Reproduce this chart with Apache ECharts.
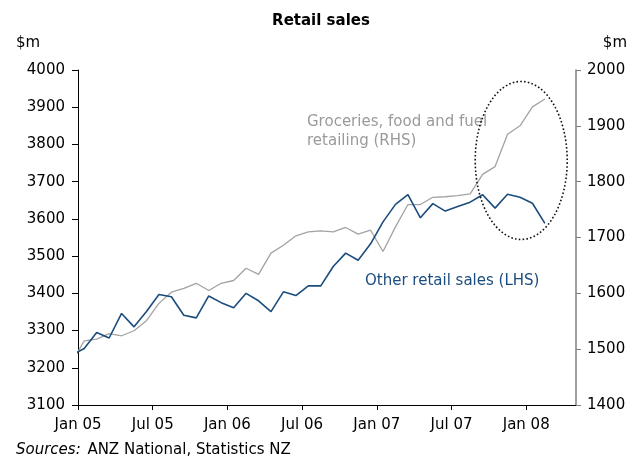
<!DOCTYPE html>
<html>
<head>
<meta charset="utf-8">
<script src="https://cdn.jsdelivr.net/npm/echarts@6/dist/echarts.min.js"></script>
<style>
html,body{margin:0;padding:0;background:#fff;}
#c{width:642px;height:459px;}
</style>
</head>
<body>
<div id="c"></div>
<script>
// Months (first point Dec 04 is partly clipped by the left axis)
const months = ['Dec 04',
  'Jan 05','Feb 05','Mar 05','Apr 05','May 05','Jun 05','Jul 05','Aug 05','Sep 05','Oct 05','Nov 05','Dec 05',
  'Jan 06','Feb 06','Mar 06','Apr 06','May 06','Jun 06','Jul 06','Aug 06','Sep 06','Oct 06','Nov 06','Dec 06',
  'Jan 07','Feb 07','Mar 07','Apr 07','May 07','Jun 07','Jul 07','Aug 07','Sep 07','Oct 07','Nov 07','Dec 07',
  'Jan 08','Feb 08'];
// Other retail sales, $m (LHS)
const otherRetail = [3234,
  3252,3295,3280,3346,3310,3351,3397,3391,3341,3334,3393,3375,
  3361,3400,3380,3351,3404,3394,3420,3420,3472,3508,3489,3533,
  3592,3639,3665,3603,3641,3621,3633,3645,3665,3629,3666,3658,
  3642,3588];
// Groceries, food and fuel retailing, $m (RHS)
const groceries = [1476,
  1515,1518,1528,1524,1533,1551,1582,1602,1609,1618,1605,1618,
  1623,1645,1634,1672,1686,1703,1710,1712,1710,1718,1706,1713,
  1675,1719,1759,1759,1772,1773,1775,1778,1813,1827,1885,1900,
  1934,1948];
const tickLabels = ['Jan 05','Jul 05','Jan 06','Jul 06','Jan 07','Jul 07','Jan 08'];
const tickMonths = [0,6,12,18,24,30,36]; // months since Jan 05
const leftTicks = [3100,3200,3300,3400,3500,3600,3700,3800,3900,4000];
const rightTicks = [1400,1500,1600,1700,1800,1900,2000];

const FONT = 'DejaVu Sans';
const FS = 15;
// x position: months since start of Jan 05, points plotted mid-month
const xOf = i => i - 1 + 0.5;

const chart = echarts.init(document.getElementById('c'), null, {renderer:'canvas'});
const option = {
  animation: false,
  backgroundColor: '#fff',
  textStyle: {fontFamily: FONT},
  title: {
    text: 'Retail sales', left: 'center', top: 9,
    textStyle: {fontFamily: FONT, fontSize: 15, fontWeight: 'bold', color: '#000'}
  },
  grid: {left: 78, right: 66, top: 70, bottom: 54, containLabel: false},
  xAxis: {
    type: 'value', min: 0, max: 40, interval: 6,
    axisLine: {show: true, onZero: false, lineStyle: {color: '#000', width: 1}},
    axisTick: {show: true, length: 5, customValues: tickMonths, lineStyle: {color: '#000'}},
    axisLabel: {
      customValues: tickMonths,
      formatter: v => { const k = tickMonths.indexOf(Math.round(v)); return k >= 0 ? tickLabels[k] : ''; },
      margin: 13, fontSize: FS, color: '#000', fontFamily: FONT
    },
    splitLine: {show: false}
  },
  yAxis: [{
    type: 'value', position: 'left', min: leftTicks[0], max: leftTicks[leftTicks.length-1], interval: 100,
    axisLine: {show: true, lineStyle: {color: '#000', width: 1}},
    axisTick: {show: true, length: 6, lineStyle: {color: '#000'}},
    axisLabel: {margin: 13, fontSize: FS, color: '#000', fontFamily: FONT, formatter: v => String(v)},
    splitLine: {show: false}
  }, {
    type: 'value', position: 'right', min: rightTicks[0], max: rightTicks[rightTicks.length-1], interval: 100,
    axisLine: {show: true, lineStyle: {color: '#808080', width: 1.5}},
    axisTick: {show: true, length: 5, lineStyle: {color: '#808080'}},
    axisLabel: {margin: 11, fontSize: FS, color: '#000', fontFamily: FONT, formatter: v => String(v)},
    splitLine: {show: false}
  }],
  series: [{
    name: 'Groceries, food and fuel retailing (RHS)',
    type: 'line', yAxisIndex: 1, symbol: 'none', clip: true,
    lineStyle: {color: '#A3A3A3', width: 1.3},
    data: groceries.map((v, i) => [xOf(i), v]),
    z: 2
  }, {
    name: 'Other retail sales (LHS)',
    type: 'line', yAxisIndex: 0, symbol: 'none', clip: true,
    lineStyle: {color: '#1B4C7E', width: 1.6},
    data: otherRetail.map((v, i) => [xOf(i), v]),
    z: 3
  }]
};
chart.setOption(option);

// annotations
const c = chart.convertToPixel({xAxisIndex: 0, yAxisIndex: 1}, [35.6, 1838]);
const f = FS + 'px "DejaVu Sans"';
chart.setOption({
  graphic: [
    {type: 'text', left: 16, top: 36, style: {text: '$m', font: f, fill: '#000'}},
    {type: 'text', right: 15, top: 36, style: {text: '$m', font: f, fill: '#000'}},
    {type: 'text', left: 307, top: 113, style: {text: 'Groceries, food and fuel\nretailing (RHS)', font: f, fill: '#9A9A9A', lineHeight: 19}},
    {type: 'text', left: 365, top: 274, style: {text: 'Other retail sales (LHS)', font: f, fill: '#1B4C7E'}},
    {type: 'text', left: 16, top: 443, style: {
      rich: {i: {fontStyle: 'italic', fontFamily: FONT, fontSize: FS, fill: '#000'}, n: {fontFamily: FONT, fontSize: FS, fill: '#000'}},
      text: '{i|Sources:}  {n|ANZ National, Statistics NZ}'
    }},
    {type: 'ellipse', shape: {cx: c[0], cy: c[1], rx: 46, ry: 79},
      style: {fill: null, stroke: '#111', lineWidth: 1.6, lineDash: [1.6, 2.2]}, z: 10}
  ]
});
</script>
</body>
</html>
